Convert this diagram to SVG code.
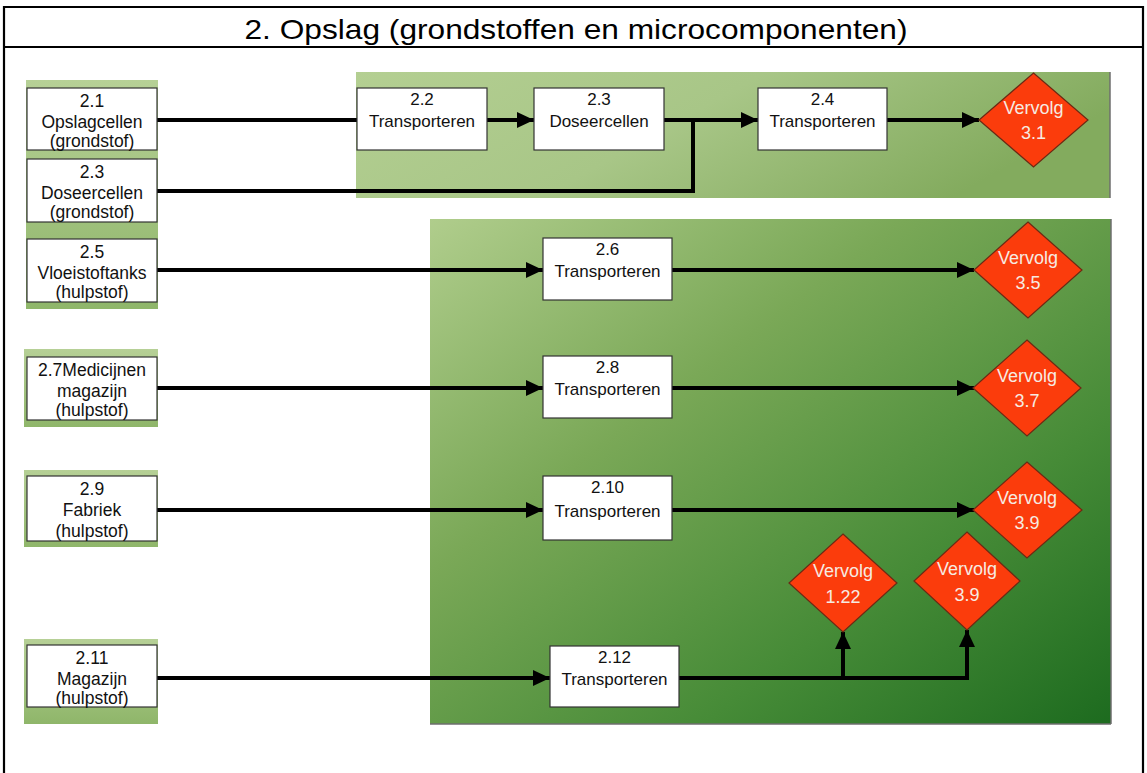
<svg xmlns="http://www.w3.org/2000/svg" width="1147" height="773" viewBox="0 0 1147 773">
  <style>
    .frame { fill: none; stroke: #000; stroke-width: 2.2; }
    .box { fill: #fff; stroke: #333; stroke-width: 1.2; }
    .btxt { font-family: "Liberation Sans", Arial, sans-serif; font-size: 17px; fill: #111; text-anchor: middle; }
    .src { font-size: 17.5px; }
    .dia { fill: #fb3c0c; stroke: #6b2a14; stroke-width: 1.2; }
    .dtxt { font-family: "Liberation Sans", Arial, sans-serif; font-size: 18px; fill: #f6ebe2; text-anchor: middle; }
    .wire { fill: none; stroke: #000; stroke-width: 4; }
    .arrow { marker-end: url(#head); }
    .edge { stroke: #6e6e6e; stroke-width: 1.5; }
  </style>
  <defs>
    <marker id="head" markerUnits="userSpaceOnUse" markerWidth="18" markerHeight="18" refX="17" refY="8" orient="auto">
      <path d="M0,0 L17,8 L0,16 Z" fill="#000"/>
    </marker>
    <linearGradient id="gTop" x1="0" y1="0" x2="1" y2="0.3">
      <stop offset="0" stop-color="#b4cf92"/>
      <stop offset="0.5" stop-color="#a8c687"/>
      <stop offset="1" stop-color="#83ab5e"/>
    </linearGradient>
    <linearGradient id="gMain" x1="0" y1="0" x2="1" y2="1">
      <stop offset="0" stop-color="#b0cd8c"/>
      <stop offset="0.35" stop-color="#7aa857"/>
      <stop offset="0.7" stop-color="#468b37"/>
      <stop offset="1" stop-color="#1d6b1f"/>
    </linearGradient>
    <linearGradient id="gSide" x1="0" y1="0" x2="0" y2="1">
      <stop offset="0" stop-color="#b6d096"/>
      <stop offset="1" stop-color="#8fb66a"/>
    </linearGradient>
  </defs>

  <!-- outer frame and title row -->
  <g id="frame">
    <line class="frame" x1="3" y1="7" x2="1144" y2="7"/>
    <line class="frame" x1="3" y1="47" x2="1144" y2="47"/>
    <line class="frame" x1="4" y1="6" x2="4" y2="773"/>
    <line class="frame" x1="1143" y1="6" x2="1143" y2="773"/>
    <text x="576" y="39" font-family="'Liberation Sans', Arial, sans-serif" font-size="28" text-anchor="middle" textLength="663" lengthAdjust="spacingAndGlyphs" fill="#000">2. Opslag (grondstoffen en microcomponenten)</text>
  </g>

  <!-- background panels -->
  <g id="panels">
    <rect x="356" y="72" width="754" height="126" fill="url(#gTop)"/>
    <line class="edge" x1="1110" y1="72" x2="1110" y2="198"/>
    <rect x="430" y="219" width="681" height="505" fill="url(#gMain)"/>
    <line class="edge" x1="1111" y1="219" x2="1111" y2="724"/>
    <line class="edge" x1="430" y1="724" x2="1111" y2="724"/>
    <rect x="26" y="80" width="132" height="229" fill="url(#gSide)"/>
    <rect x="24" y="349" width="134" height="78" fill="url(#gSide)"/>
    <rect x="24" y="470" width="134" height="77" fill="url(#gSide)"/>
    <rect x="24" y="639" width="134" height="85" fill="url(#gSide)"/>
  </g>

  <!-- connectors -->
  <g id="connectors">
    <line class="wire" x1="157" y1="120" x2="357" y2="120"/>
    <line class="wire arrow" x1="487" y1="120" x2="534" y2="120"/>
    <line class="wire arrow" x1="664" y1="120" x2="758" y2="120"/>
    <path class="wire" d="M157,191 H693 V120"/>
    <line class="wire arrow" x1="887" y1="120" x2="979" y2="120"/>

    <line class="wire arrow" x1="157" y1="270" x2="543" y2="270"/>
    <line class="wire arrow" x1="672" y1="270" x2="974" y2="270"/>
    <line class="wire arrow" x1="157" y1="388" x2="543" y2="388"/>
    <line class="wire arrow" x1="672" y1="388" x2="974" y2="388"/>
    <line class="wire arrow" x1="157" y1="510" x2="543" y2="510"/>
    <line class="wire arrow" x1="672" y1="510" x2="974" y2="510"/>
    <line class="wire arrow" x1="157" y1="678" x2="550" y2="678"/>
    <path class="wire" d="M679,678 H967"/>
    <line class="wire arrow" x1="843" y1="680" x2="843" y2="632"/>
    <line class="wire arrow" x1="967" y1="680" x2="967" y2="630"/>
  </g>

  <!-- source boxes (left column) -->
  <g id="n2-1">
    <rect class="box" x="27" y="88" width="130" height="62"/>
    <text class="btxt src" x="92" y="107">2.1</text>
    <text class="btxt src" x="92" y="128">Opslagcellen</text>
    <text class="btxt src" x="92" y="147">(grondstof)</text>
  </g>
  <g id="n2-3a">
    <rect class="box" x="27" y="159" width="130" height="63"/>
    <text class="btxt src" x="92" y="178">2.3</text>
    <text class="btxt src" x="92" y="199">Doseercellen</text>
    <text class="btxt src" x="92" y="218">(grondstof)</text>
  </g>
  <g id="n2-5">
    <rect class="box" x="27" y="239" width="130" height="63"/>
    <text class="btxt src" x="92" y="258">2.5</text>
    <text class="btxt src" x="92" y="279">Vloeistoftanks</text>
    <text class="btxt src" x="92" y="298">(hulpstof)</text>
  </g>
  <g id="n2-7">
    <rect class="box" x="27" y="357" width="130" height="63"/>
    <text class="btxt src" x="92" y="376">2.7Medicijnen</text>
    <text class="btxt src" x="92" y="397">magazijn</text>
    <text class="btxt src" x="92" y="416">(hulpstof)</text>
  </g>
  <g id="n2-9">
    <rect class="box" x="27" y="476" width="130" height="65"/>
    <text class="btxt src" x="92" y="495">2.9</text>
    <text class="btxt src" x="92" y="516">Fabriek</text>
    <text class="btxt src" x="92" y="537">(hulpstof)</text>
  </g>
  <g id="n2-11">
    <rect class="box" x="27" y="645" width="130" height="62"/>
    <text class="btxt src" x="92" y="664">2.11</text>
    <text class="btxt src" x="92" y="685">Magazijn</text>
    <text class="btxt src" x="92" y="704">(hulpstof)</text>
  </g>

  <!-- process boxes -->
  <g id="n2-2">
    <rect class="box" x="357" y="88" width="130" height="62"/>
    <text class="btxt" x="422" y="105">2.2</text>
    <text class="btxt" x="422" y="127">Transporteren</text>
  </g>
  <g id="n2-3b">
    <rect class="box" x="534" y="88" width="130" height="62"/>
    <text class="btxt" x="599" y="105">2.3</text>
    <text class="btxt" x="599" y="127">Doseercellen</text>
  </g>
  <g id="n2-4">
    <rect class="box" x="758" y="88" width="129" height="62"/>
    <text class="btxt" x="822.5" y="105">2.4</text>
    <text class="btxt" x="822.5" y="127">Transporteren</text>
  </g>
  <g id="n2-6">
    <rect class="box" x="543" y="238" width="129" height="62"/>
    <text class="btxt" x="607.5" y="255">2.6</text>
    <text class="btxt" x="607.5" y="277">Transporteren</text>
  </g>
  <g id="n2-8">
    <rect class="box" x="543" y="356" width="129" height="62"/>
    <text class="btxt" x="607.5" y="373">2.8</text>
    <text class="btxt" x="607.5" y="395">Transporteren</text>
  </g>
  <g id="n2-10">
    <rect class="box" x="543" y="476" width="129" height="64"/>
    <text class="btxt" x="607.5" y="493">2.10</text>
    <text class="btxt" x="607.5" y="517">Transporteren</text>
  </g>
  <g id="n2-12">
    <rect class="box" x="550" y="646" width="129" height="61"/>
    <text class="btxt" x="614.5" y="663">2.12</text>
    <text class="btxt" x="614.5" y="685">Transporteren</text>
  </g>

  <!-- continuation markers -->
  <g id="v3-1">
    <path class="dia" d="M1033.5,73 L1088,120 L1033.5,167 L979,120 Z"/>
    <text class="dtxt" x="1033.5" y="114">Vervolg</text>
    <text class="dtxt" x="1033.5" y="139">3.1</text>
  </g>
  <g id="v3-5">
    <path class="dia" d="M1028,222 L1082,270 L1028,318 L974,270 Z"/>
    <text class="dtxt" x="1028" y="264">Vervolg</text>
    <text class="dtxt" x="1028" y="289">3.5</text>
  </g>
  <g id="v3-7">
    <path class="dia" d="M1027,340 L1081,388 L1027,436 L973,388 Z"/>
    <text class="dtxt" x="1027" y="382">Vervolg</text>
    <text class="dtxt" x="1027" y="407">3.7</text>
  </g>
  <g id="v3-9a">
    <path class="dia" d="M1027,462 L1082,510 L1027,558 L973,510 Z"/>
    <text class="dtxt" x="1027" y="504">Vervolg</text>
    <text class="dtxt" x="1027" y="529">3.9</text>
  </g>
  <g id="v1-22">
    <path class="dia" d="M843,534 L897,583 L843,632 L789,583 Z"/>
    <text class="dtxt" x="843" y="577">Vervolg</text>
    <text class="dtxt" x="843" y="603">1.22</text>
  </g>
  <g id="v3-9b">
    <path class="dia" d="M967,532 L1020,581 L967,630 L914,581 Z"/>
    <text class="dtxt" x="967" y="575">Vervolg</text>
    <text class="dtxt" x="967" y="601">3.9</text>
  </g>
</svg>
